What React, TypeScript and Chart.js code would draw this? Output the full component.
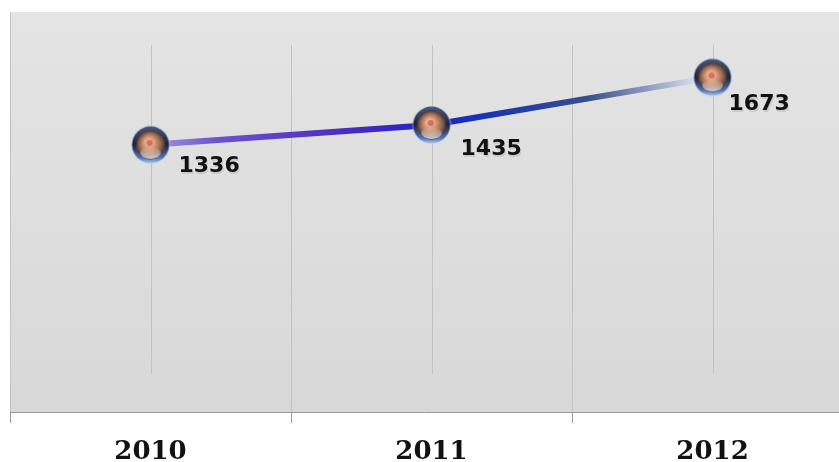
import React, { useEffect, useRef } from "react";
import { Chart, registerables } from "chart.js";

Chart.register(...registerables);

const categories = ["2010", "2011", "2012"];
const values = [1336, 1435, 1673];
const yMin = 0;
const yMax = 2000;

function makeMarker(): HTMLCanvasElement {
  const s = 40;
  const c = document.createElement("canvas");
  c.width = s;
  c.height = s;
  const g = c.getContext("2d")!;
  const cx = s / 2, cy = s / 2, r = 18.5;
  g.beginPath();
  g.arc(cx, cy, r + 1, 0, Math.PI * 2);
  g.fillStyle = "rgba(200,215,240,0.6)";
  g.fill();
  const ring = g.createLinearGradient(0, cy - r, 0, cy + r);
  ring.addColorStop(0, "#4a5a7a");
  ring.addColorStop(0.5, "#1c2238");
  ring.addColorStop(0.85, "#4f74b8");
  ring.addColorStop(1, "#a8c8ec");
  g.beginPath();
  g.arc(cx, cy, r, 0, Math.PI * 2);
  g.fillStyle = ring;
  g.fill();
  const face = g.createRadialGradient(cx - 2, cy - 3, 1, cx, cy, r - 4);
  face.addColorStop(0, "#f0c8a0");
  face.addColorStop(0.35, "#d89a78");
  face.addColorStop(0.7, "#9a6a50");
  face.addColorStop(1, "#4a3440");
  g.beginPath();
  g.arc(cx, cy, r - 4, 0, Math.PI * 2);
  g.fillStyle = face;
  g.fill();
  const hl = g.createLinearGradient(0, cy + 2, 0, cy + r - 3);
  hl.addColorStop(0, "rgba(255,255,255,0)");
  hl.addColorStop(1, "rgba(230,240,250,0.9)");
  g.beginPath();
  g.ellipse(cx, cy + 8, r - 8, 6, 0, 0, Math.PI * 2);
  g.fillStyle = hl;
  g.fill();
  g.beginPath();
  g.arc(cx - 1, cy - 2, 3, 0, Math.PI * 2);
  g.fillStyle = "rgba(200,60,60,0.6)";
  g.fill();
  return c;
}

export default function App() {
  const ref = useRef<HTMLCanvasElement>(null);

  useEffect(() => {
    document.body.style.margin = "0";
    const canvas = ref.current!;
    const marker = makeMarker();
    const labelOffsets = [
      [28, 21],
      [29, 24],
      [16, 27],
    ];

    const bgPlugin = {
      id: "bgPlugin",
      beforeDraw(chart: any) {
        const { ctx, chartArea } = chart;
        const { left, right, top, bottom } = chartArea;
        ctx.save();
        const g = ctx.createLinearGradient(0, top, 0, bottom);
        g.addColorStop(0, "#e4e4e4");
        g.addColorStop(0.5, "#dedede");
        g.addColorStop(1, "#d8d8d8");
        ctx.fillStyle = g;
        ctx.fillRect(left, top, right - left, bottom - top);
        const xs = chart.scales.x;
        ctx.strokeStyle = "#c2c2c2";
        ctx.lineWidth = 1;
        xs.ticks.forEach((t: any) => {
          const v = t.value;
          const x = Math.round(xs.getPixelForValue(v)) + 0.5;
          const isCat = Math.abs(v - Math.round(v)) < 1e-6;
          const y0 = Math.abs(v - xs.min) < 1e-6 ? top : top + 33;
          const y1 = isCat ? bottom - 38 : bottom;
          if (v > xs.max - 0.1) return;
          ctx.beginPath();
          ctx.moveTo(x, y0);
          ctx.lineTo(x, y1);
          ctx.stroke();
        });
        ctx.strokeStyle = "#9a9a9a";
        ctx.beginPath();
        ctx.moveTo(left, bottom + 0.5);
        ctx.lineTo(right, bottom + 0.5);
        ctx.stroke();
        xs.ticks.forEach((t: any) => {
          const v = t.value;
          const isCat = Math.abs(v - Math.round(v)) < 1e-6;
          if (isCat || v > xs.max - 0.1) return;
          const x = Math.round(xs.getPixelForValue(v)) + 0.5;
          ctx.beginPath();
          ctx.moveTo(x, bottom);
          ctx.lineTo(x, bottom + 11);
          ctx.stroke();
        });
        ctx.restore();
      },
    };

    const labelPlugin = {
      id: "labelPlugin",
      afterDatasetsDraw(chart: any) {
        const { ctx } = chart;
        const meta = chart.getDatasetMeta(0);
        ctx.save();
        ctx.font = "bold 22px 'DejaVu Sans'";
        ctx.textAlign = "left";
        ctx.textBaseline = "middle";
        meta.data.forEach((pt: any, i: number) => {
          const [dx, dy] = labelOffsets[i];
          ctx.fillStyle = "rgba(160,160,160,0.35)";
          ctx.fillText(String(values[i]), pt.x + dx + 1, pt.y + dy + 2);
          ctx.fillStyle = "#111111";
          ctx.fillText(String(values[i]), pt.x + dx, pt.y + dy);
        });
        ctx.restore();
      },
    };

    const chart = new Chart(canvas, {
      type: "line",
      data: {
        datasets: [
          {
            data: values.map((v, i) => ({ x: i, y: v })),
            borderWidth: 6,
            borderColor: (c: any) => {
              const ch = c.chart;
              const { chartArea } = ch;
              if (!chartArea) return "#2030c0";
              const xs = ch.scales.x;
              const x0 = xs.getPixelForValue(0);
              const x2 = xs.getPixelForValue(values.length - 1);
              const g = ch.ctx.createLinearGradient(x0, 0, x2, 0);
              g.addColorStop(0, "#a79ae0");
              g.addColorStop(0.12, "#6a52cc");
              g.addColorStop(0.35, "#4a2cc0");
              g.addColorStop(0.5, "#1a26c8");
              g.addColorStop(0.62, "#1c36b0");
              g.addColorStop(0.78, "#3a5088");
              g.addColorStop(0.9, "#9aa8c8");
              g.addColorStop(1, "#f0f4fa");
              return g;
            },
            tension: 0,
            pointStyle: marker as any,
            pointRadius: 20,
            fill: false,
          },
        ],
      },
      options: {
        animation: false,
        responsive: false,
        layout: { autoPadding: false, padding: { left: 10, top: 12, right: 0, bottom: 0 } },
        plugins: {
          legend: { display: false },
          tooltip: { enabled: false },
        },
        scales: {
          x: {
            type: "linear",
            min: -0.5,
            max: 2.45,
            grid: { display: false, drawTicks: false },
            border: { display: false },
            afterBuildTicks: (s: any) => {
              s.ticks = s.ticks.filter(
                (t: any) => Math.abs(t.value * 2 - Math.round(t.value * 2)) < 1e-6
              );
            },
            afterFit: (s: any) => {
              s.height = 50;
              s.paddingLeft = 0;
              s.paddingRight = 0;
            },
            ticks: {
              stepSize: 0.5,
              autoSkip: false,
              maxRotation: 0,
              padding: 25,
              color: "#111111",
              font: { family: "'DejaVu Serif'", size: 26, weight: "bold" },
              callback: (v: any) => {
                const n = Number(v);
                return Math.abs(n - Math.round(n)) < 1e-6 && categories[Math.round(n)]
                  ? categories[Math.round(n)]
                  : "";
              },
            },
          },
          y: {
            display: false,
            min: yMin,
            max: yMax,
          },
        },
      },
      plugins: [bgPlugin, labelPlugin],
    } as any);

    return () => chart.destroy();
  }, []);

  return (
    <div style={{ position: "absolute", left: 0, top: 0, width: 839, height: 462, background: "#ffffff" }}>
      <canvas ref={ref} width={839} height={462} style={{ width: 839, height: 462, display: "block" }} />
    </div>
  );
}
